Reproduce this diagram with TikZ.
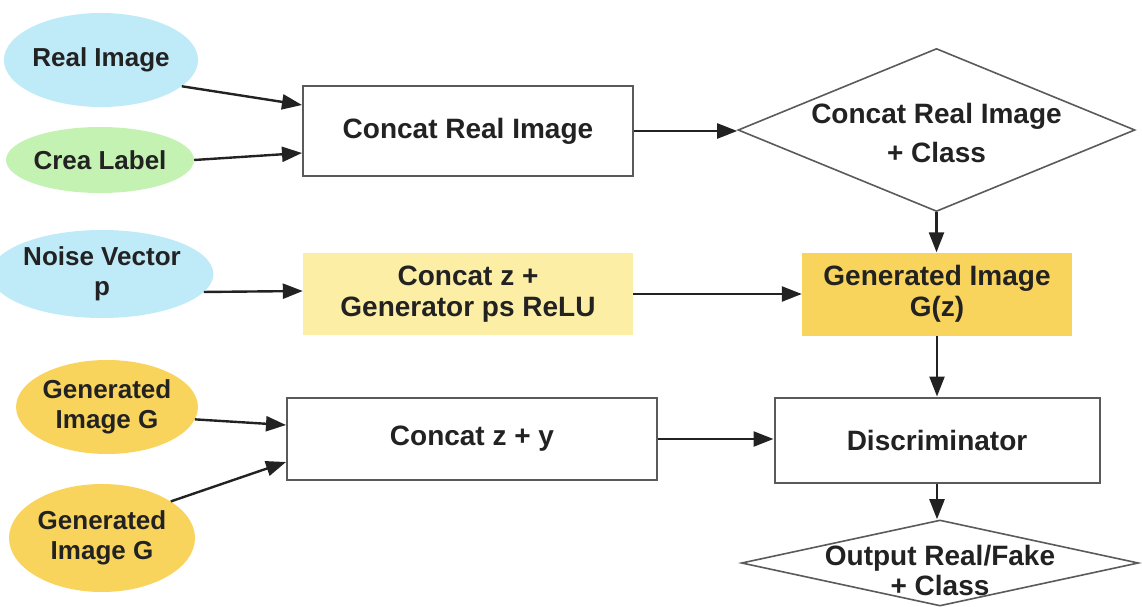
\documentclass[tikz,border=0pt]{standalone}
\usepackage{fontspec}
\setmainfont{Liberation Sans}
\usetikzlibrary{shapes.geometric,arrows.meta}
\definecolor{txt}{HTML}{222222}
\definecolor{edge}{HTML}{5A5A5A}
\definecolor{lblue}{HTML}{BFEAF8}
\definecolor{lgreen}{HTML}{C3F2B3}
\definecolor{gold}{HTML}{F9D45C}
\definecolor{pale}{HTML}{FDEEA6}
\tikzset{
  every node/.style={text=txt, font=\fontsize{28}{31}\selectfont\bfseries, align=center},
  oval/.style={ellipse, draw=none, inner sep=0pt, font=\fontsize{26}{30}\selectfont\bfseries},
  box/.style={rectangle, draw=edge, line width=2pt, inner sep=0pt},
  fbox/.style={rectangle, draw=none, inner sep=0pt},
  dia/.style={diamond, draw=edge, line width=1.6pt, inner sep=0pt},
  arr/.style={-{Triangle[length=20pt,width=15pt]}, line width=2.4pt, draw=txt},
}
\begin{document}
\begin{tikzpicture}[x=1pt,y=-1pt]
\useasboundingbox (0,0) rectangle (1142,607);
% ellipses
\node[oval, fill=lblue, minimum width=184pt, minimum height=94pt] (ri) at (101,60) {Real Image};
\node[oval, fill=lgreen, minimum width=186pt, minimum height=66pt] (cl) at (100,160) {Crea Label};
\node[oval, fill=lblue, minimum width=185pt, minimum height=88pt] (nv) at (102,274) {Noise Vector\\p};
\node[oval, fill=gold, minimum width=172pt, minimum height=94pt] (g1) at (107,407) {Generated\\Image G};
\node[oval, fill=gold, minimum width=186pt, minimum height=108pt] (g2) at (102,538) {Generated\\Image G};
% boxes
\node[box, minimum width=330pt, minimum height=90pt] (cri) at (468,131) {Concat Real Image};
\node[fbox, fill=pale, minimum width=330pt, minimum height=82pt] (cz) at (468,294) {Concat z +\\Generator ps ReLU};
\node[fbox, fill=gold, minimum width=270pt, minimum height=83pt] (gz) at (937,294) {Generated Image\\G(z)};
\node[box, minimum width=370pt, minimum height=82pt] (czy) at (472,439) {Concat z + y};
\node[box, minimum width=325pt, minimum height=85pt] (dis) at (937,440) {Discriminator};
% diamonds
\node[dia, minimum width=397pt, minimum height=163pt] (d1) at (936.5,130) {};
\node[font=\fontsize{28}{39}\selectfont\bfseries] at ([yshift=-3pt]d1.center) {Concat Real Image\\+ Class};
\node[dia, minimum width=397pt, minimum height=86pt] (d2) at (940,563) {};
\node[font=\fontsize{28}{30}\selectfont\bfseries] at ([yshift=-7pt]d2.center) {Output Real/Fake\\+ Class};
% connectors
\draw[arr] (ri.-18) -- ([yshift=26pt]cri.west);
\draw[arr] (cl.east) -- ([yshift=-22pt]cri.west);
\draw[arr] (cri.east) -- (cri.east -| d1.west);
\draw[arr] (d1.south) -- (d1.south |- gz.north);
\draw[arr] (nv.-10) -- ([yshift=3pt]cz.west);
\draw[arr] (cz.east) -- (gz.west);
\draw[arr] (gz.south) -- (gz.south |- dis.north);
\draw[arr] (g1.-8) -- ([yshift=14pt]czy.west);
\draw[arr] (g2.28) -- ([yshift=-23pt]czy.west);
\draw[arr] (czy.east) -- (czy.east -| dis.west);
\draw[arr] (dis.south) -- (dis.south |- d2.north);
\end{tikzpicture}
\end{document}
